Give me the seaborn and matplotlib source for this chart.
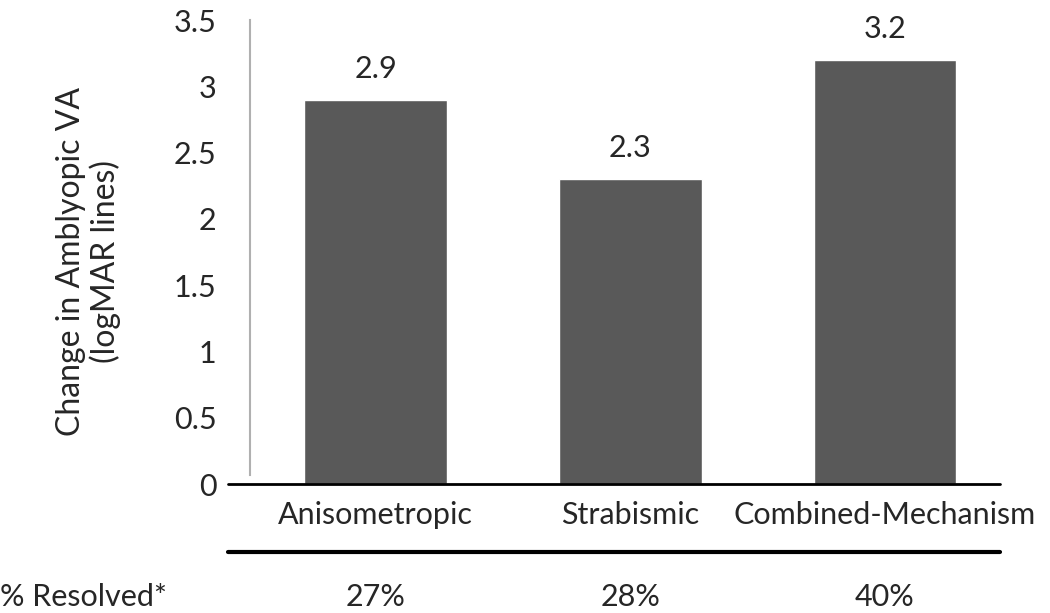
import matplotlib
matplotlib.use('Agg')
import matplotlib.pyplot as plt
import matplotlib.transforms as mtransforms
import seaborn as sns
import pandas as pd
from matplotlib.lines import Line2D

categories = ['Anisometropic', 'Strabismic', 'Combined-Mechanism']
change_va = [2.9, 2.3, 3.2]
resolved = ['27%', '28%', '40%']

sns.set_style('white')
plt.rcParams['font.family'] = ['Lato', 'DejaVu Sans']

df = pd.DataFrame({'group': categories, 'change': change_va})
txt = '#262626'
fs = 22

fig = plt.figure(figsize=(10.5, 6.13), dpi=100)
ax = fig.add_axes([0.238, 0.2104, 0.714, 0.7566])

sns.barplot(data=df, x='group', y='change', color='#595959', width=0.56,
            saturation=1, ax=ax)

ax.set_ylim(0, 3.5)
ax.set_xlim(-0.494, 2.45)
ax.set_yticks([0, 0.5, 1, 1.5, 2, 2.5, 3, 3.5])
ax.set_yticklabels(['0', '0.5', '1', '1.5', '2', '2.5', '3', '3.5'])
ax.tick_params(axis='both', length=0, labelsize=fs, colors=txt)
ax.tick_params(axis='y', pad=24)
ax.tick_params(axis='x', pad=12)
ax.set_xlabel('')
ax.set_ylabel('Change in Amblyopic VA\n(logMAR lines)', fontsize=23,
              color=txt, linespacing=1.15)
ax.yaxis.set_label_coords(-0.172, 0.48)

sns.despine(ax=ax, top=True, right=True, bottom=True)
ax.spines['left'].set_color('#b0b0b0')
ax.spines['left'].set_linewidth(1.5)
ax.spines['left'].set_bounds(0.07, 3.5)

for i, v in enumerate(change_va):
    ax.text(i, v + 0.13, f'{v}', ha='center', va='bottom', fontsize=fs,
            color=txt)

# x axis line (extends left past the plot area) and separator line
fig.add_artist(Line2D([0.217, 0.952], [0.2104, 0.2104], color='black', lw=2))
fig.add_artist(Line2D([0.217, 0.952], [0.10, 0.10], color='black', lw=3))

trans = mtransforms.blended_transform_factory(ax.transData, fig.transFigure)
for i, r in enumerate(resolved):
    ax.text(i, 0.026, r, transform=trans, ha='center', va='center',
            fontsize=fs, color=txt, clip_on=False)
fig.text(0.0, 0.026, '% Resolved*', ha='left', va='center', fontsize=fs,
         color=txt)

fig.savefig('out.png', dpi=100)
